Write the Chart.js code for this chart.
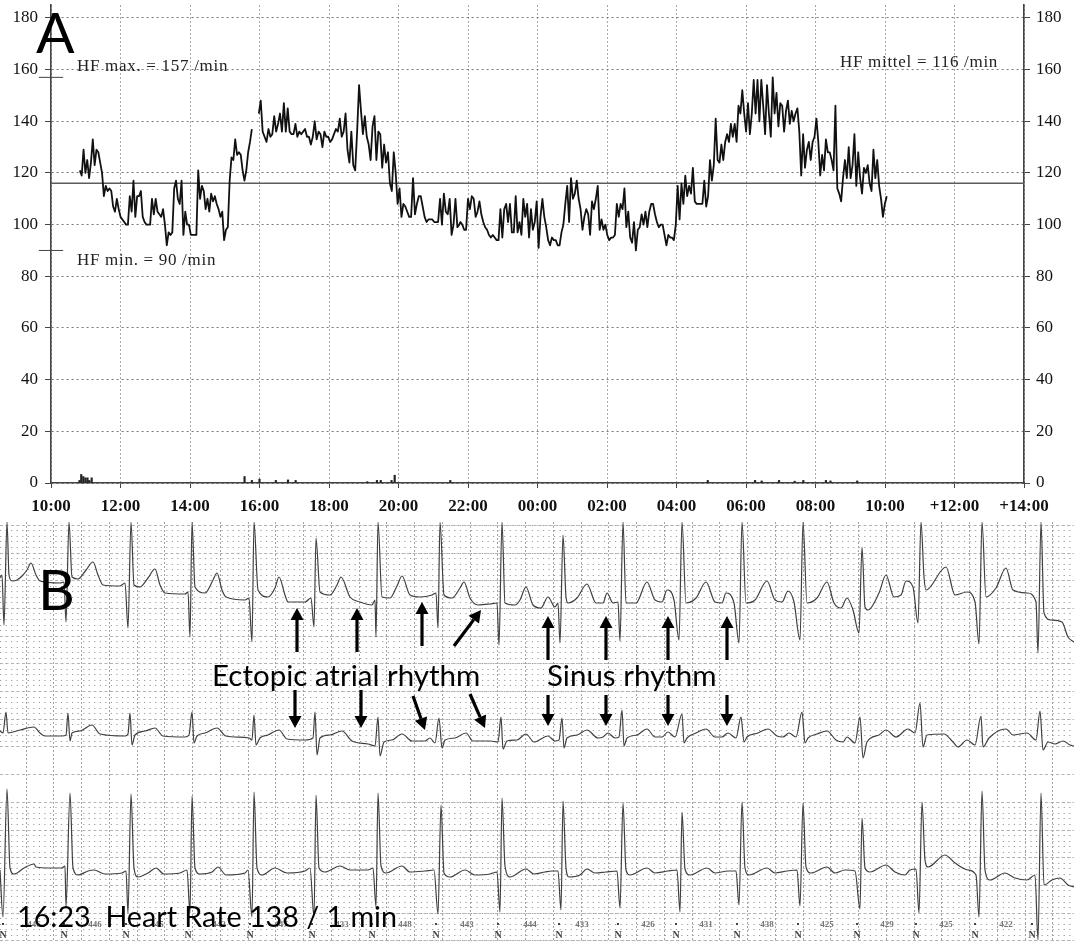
<!DOCTYPE html>
<html>
<head>
<meta charset="utf-8">
<title>Holter</title>
<script src="https://cdn.jsdelivr.net/npm/chart.js@4"></script>
<style>
html, body { margin: 0; padding: 0; background: #fff; }
#page { position: relative; width: 1074px; height: 942px; overflow: hidden; }
canvas { position: absolute; left: 0; filter: blur(0.45px); }
.hf { position: absolute; font: 17px "Liberation Serif", serif; letter-spacing: 0.7px; color: #222; white-space: nowrap; }
.note { position: absolute; font-family: Lato, sans-serif; color: #000; white-space: nowrap; line-height: 1; }
</style>
</head>
<body>
<div id="page">
  <canvas id="trend" width="1074" height="522" style="top:0"></canvas>
  <canvas id="ecg" width="1074" height="420" style="top:522px"></canvas>
  <div class="hf" style="left:77px;top:56px">HF max. = 157 /min</div>
  <div class="hf" style="left:77px;top:250px">HF min. = 90 /min</div>
  <div class="hf" style="left:840px;top:52px">HF mittel = 116 /min</div>
  <div class="note" style="left:36px;top:3px;font-size:57px">A</div>
  <div class="note" style="left:38px;top:560px;font-size:57px">B</div>
  <div class="note" style="left:212px;top:660px;font-size:29.5px">Ectopic atrial rhythm</div>
  <div class="note" style="left:547px;top:660px;font-size:29.5px">Sinus rhythm</div>
  <div class="note" style="left:17px;top:902px;font-size:28.7px">16:23&nbsp; Heart Rate 138 / 1 min</div>
</div>
<script>
const xTickLabels = ['10:00', '12:00', '14:00', '16:00', '18:00', '20:00', '22:00', '00:00',
    '02:00', '04:00', '06:00', '08:00', '10:00', '+12:00', '+14:00'];

const hfMean = 116;
const hfMax = 157;
const hfMin = 90;

// heart rate readings, one list per stretch of the recording (hours after 10:00)
const hrPartA = [121,119,129,120,125,118,124,133,123,129,128,124,120,111,115,113,114,113,107,105,110,106,103,102,101,100,100,111,105,117,103,111,111,113,103,101,100,100,100,110,104,110,105,104,103,106,100,92,97,96,97,114,117,110,108,117,96,105,100,100,96,96,96,96,121,110,115,113,106,110,105,112,109,111,108,106,103,105,94,98,99,117,126,125,133,127,128,127,121,117,121,128,132,137];
const hrPartB = [143,148,136,134,132,137,134,135,142,136,139,143,136,147,136,145,136,135,135,139,134,136,135,136,137,134,134,131,134,140,133,136,135,130,136,134,134,132,133,135,137,136,141,134,136,143,129,124,136,123,121,136,154,144,135,142,134,131,125,138,142,125,136,135,122,131,124,128,116,113,128,120,108,114,103,108,107,105,103,103,118,104,108,111,111,107,103,101,102,102,102,101,101,101,110,100,112,105,104,110,96,100,110,99,100];
const hrPartC = [101,100,98,98,110,106,111,110,103,105,109,104,101,99,98,96,95,96,95,94,94,106,95,106,108,101,108,97,97,111,97,101,96,110,103,108,95,106,98,101,109,91,103,110,103,99,94,92,95,94,94,92,92,97,100,108,115,101,118,110,112,117,110,106,98,103,106,104,96,109,106,110,115,98,102,98,100,96,94,95,95,96,108,103,108,106,114,99,105,95,93,101,90,98,99,104,100,105,99,105,108,108,104,101,99,100,100,96,92,96,95];
const hrPartD = [95,94,100,115,102,116,108,119,111,115,112,122,109,108,108,108,108,117,107,111,125,117,123,141,125,124,131,125,132,135,132,139,134,139,132,146,143,152,143,136,147,135,143,156,143,156,140,156,146,135,154,143,134,157,143,151,138,147,146,136,144,148,139,144,140,143,145,136,119,135,122,129,132,125,132,134,141,132,119,127,121,133,128,128,125,121,146,114,112,109,118,125,118,130,118,123,135,115,128,118,112,122,120,123,116,113,129,118,125,115,110,103,108,111];
const hrPartSpans = [[0.83, 5.78], [5.98, 11.75], [11.78, 17.82], [17.87, 24.05]];

// small artefact count along the zero line
const artefactHours = [0.82,0.87,0.93,0.99,1.05,1.1,1.17,5.57,5.78,6,6.47,6.82,7.04,9.1,9.38,9.49,9.8,9.89,11.49,18.9,20.26,20.45,20.95,21.4,21.65,22.3,22.43,23.2];
const artefactCounts = [1,3.3,2.5,2,2,1,2,2.5,1,1.5,1,1.2,1,0.5,1,1,1,3,1,1,1,0.8,1,0.7,1,1,0.8,0.8];

// ECG leads: [sample, amplitude]
const lead1 = [[0,22],[2,25],[4,-25],[7,78],[9,25],[12,19],[17,20],[22,24],[27,30],[31,37],[36,25],[40,19],[60,17],[64,18],[66,-22],[69,78],[72,23],[78,21],[86,30],[93,38],[98,25],[103,15],[120,14],[125,17],[128,-28],[131,78],[134,15],[140,13],[148,22],[155,31],[160,15],[165,7],[185,6],[188,8],[190,-37],[192,78],[195,13],[205,7],[213,20],[217,27],[222,10],[226,3],[245,0],[249,2],[252,-42],[254,78],[258,10],[268,3],[275,12],[279,23],[285,5],[288,-2],[305,-2],[311,2],[314,-27],[316,62],[320,8],[330,5],[337,15],[341,23],[350,3],[360,-2],[372,-5],[375,0],[376,-37],[378,78],[382,3],[390,2],[397,14],[402,24],[410,5],[420,3],[432,5],[436,7],[438,-28],[440,78],[444,5],[452,2],[460,12],[464,18],[470,2],[478,-5],[490,-4],[497,-3],[499,-45],[502,78],[505,-3],[515,-5],[520,0],[526,13],[533,-5],[541,-8],[548,3],[555,-7],[558,-3],[560,-43],[563,65],[566,3],[568,-3],[577,2],[587,16],[596,-3],[603,-3],[607,7],[613,-3],[618,-2],[620,-41],[623,78],[626,-3],[636,-3],[647,18],[655,0],[662,-2],[667,10],[674,0],[679,-40],[682,78],[686,-3],[696,2],[706,18],[715,-2],[722,-3],[726,7],[734,-3],[739,-43],[742,78],[746,-3],[755,0],[767,19],[775,0],[782,-2],[788,9],[794,-2],[800,-40],[803,78],[807,-3],[817,2],[827,18],[834,-3],[841,-8],[847,2],[853,-10],[859,-33],[862,53],[865,-7],[868,-10],[879,7],[886,25],[894,3],[901,5],[906,19],[913,13],[918,-23],[921,78],[924,23],[926,10],[946,33],[955,5],[967,8],[975,-2],[979,-44],[982,78],[986,3],[996,12],[1006,32],[1013,10],[1027,7],[1036,-2],[1038,-53],[1041,78],[1044,-13],[1051,-20],[1062,-22],[1068,-37],[1074,-42]];
const lead2 = [[0,9],[3,7],[6,28],[8,7],[20,10],[34,13],[40,7],[45,4],[62,4],[66,5],[68,27],[70,-1],[72,7],[80,9],[92,15],[100,6],[125,4],[128,6],[130,27],[132,-5],[135,5],[145,9],[155,12],[163,4],[185,3],[189,5],[192,28],[194,-3],[197,4],[205,7],[217,12],[226,4],[249,2],[252,0],[254,25],[256,-5],[260,2],[268,5],[279,10],[287,1],[305,0],[313,2],[315,28],[317,-15],[320,2],[330,5],[342,9],[352,-1],[368,-4],[375,-6],[378,23],[380,-16],[384,-2],[392,0],[402,6],[412,-1],[425,-1],[430,2],[435,-3],[439,22],[442,-8],[445,0],[455,2],[466,7],[473,-1],[490,-1],[498,-2],[501,23],[503,-9],[507,-1],[517,0],[526,6],[534,-2],[548,4],[555,-1],[559,0],[562,22],[564,-8],[567,2],[577,5],[587,10],[598,2],[603,3],[608,7],[615,2],[619,3],[622,30],[624,-6],[627,2],[637,5],[647,11],[655,3],[662,3],[668,8],[675,3],[682,26],[684,-3],[687,2],[696,7],[706,11],[715,3],[722,3],[728,7],[736,2],[741,23],[744,-2],[747,3],[758,7],[768,11],[777,4],[783,3],[789,7],[796,3],[802,28],[805,-3],[808,2],[817,6],[827,9],[836,0],[843,-2],[847,3],[855,-3],[860,23],[863,-18],[867,-2],[879,5],[886,10],[896,3],[908,11],[915,7],[920,37],[923,-7],[927,5],[944,6],[953,-2],[958,-7],[967,0],[975,-5],[981,24],[983,-7],[989,2],[1006,11],[1013,5],[1027,7],[1036,0],[1040,29],[1043,-10],[1048,-2],[1055,-4],[1063,-1],[1070,-5],[1074,-6]];
const lead3 = [[0,0],[3,-47],[7,81],[10,2],[14,-4],[24,2],[34,6],[36,3],[50,2],[62,2],[65,4],[66,-37],[70,77],[73,2],[78,-5],[88,-1],[94,0],[105,-4],[122,-3],[126,-1],[128,-43],[131,76],[134,2],[138,-7],[148,-3],[156,2],[164,-4],[180,-3],[187,0],[190,-43],[192,74],[195,2],[200,-4],[212,-2],[218,3],[226,-5],[245,-3],[248,0],[252,-47],[254,78],[257,2],[262,-5],[275,2],[287,-3],[305,-1],[310,2],[314,-47],[316,75],[319,2],[325,-2],[340,4],[350,0],[368,0],[373,2],[376,-37],[378,77],[381,4],[386,-3],[402,4],[410,-2],[425,-1],[434,0],[438,-44],[441,65],[444,-3],[450,-7],[465,0],[475,-5],[490,-4],[497,-2],[500,-42],[502,72],[505,4],[510,-7],[526,1],[534,-4],[545,-2],[552,-1],[558,-1],[561,-40],[563,69],[566,2],[569,-7],[580,-5],[587,1],[595,-3],[606,-2],[617,-1],[620,-38],[623,67],[626,0],[630,-5],[647,2],[655,-3],[668,-1],[677,0],[680,-42],[682,58],[685,1],[690,-5],[707,2],[715,-3],[728,-1],[736,-1],[739,-35],[742,68],[745,2],[749,-5],[767,2],[775,-3],[787,-1],[797,0],[800,-36],[803,67],[806,3],[811,-3],[827,3],[835,-3],[845,0],[855,-1],[860,-39],[862,52],[865,2],[870,-2],[886,5],[895,-2],[905,-5],[910,0],[916,1],[919,-43],[922,68],[925,10],[928,3],[945,15],[955,7],[968,0],[976,-5],[979,-47],[982,79],[985,0],[990,-10],[1005,-3],[1015,-8],[1027,-10],[1035,-5],[1038,-70],[1041,77],[1044,-15],[1052,-10],[1060,-8],[1068,-15],[1074,-17]];

// RR intervals printed under the strip, with the sample they sit at
const rrSamples = [34,95,157,219,281,342,405,467,530,582,648,706,767,827,887,946,1006];
const rrLabels = ['446','446','445','442','447','433','448','443','444','433','426','431','438','425','429','425','422'];
const beatSamples = [3,64,126,188,250,312,372,436,498,559,618,676,737,798,857,916,975,1032];

// arrows on the strip: tail sample, tail amp, tip sample, tip amp (lead 1 amplitude)
const arrows = [
    [297,-52,297,-8], [357,-52,357,-8], [422,-46,422,-2], [454,-46,481,-10],
    [548,-60,548,-16], [606,-60,606,-16], [668,-60,668,-16], [727,-60,727,-16],
    [295,-90,295,-128], [361,-90,361,-128], [413,-96,425,-130], [470,-94,485,-128],
    [548,-95,548,-126], [606,-95,606,-126], [668,-95,668,-126], [727,-95,727,-126]
];

function partPoints(values, span) {
    const step = (span[1] - span[0]) / (values.length - 1);
    return values.map((v, i) => ({ x: span[0] + i * step, y: v }));
}

const hrPoints = [
    ...partPoints(hrPartA, hrPartSpans[0]),
    { x: 5.88, y: null },
    ...partPoints(hrPartB, hrPartSpans[1]),
    ...partPoints(hrPartC, hrPartSpans[2]),
    ...partPoints(hrPartD, hrPartSpans[3])
];

const serifTicks = { family: '"Liberation Serif", serif', size: 17 };

// no room kept for half a tick label above or below the plot
function noAxisPadding(s) {
    s.paddingTop = 0;
    s.paddingBottom = 0;
}

new Chart(document.getElementById('trend'), {
    type: 'line',
    data: {
        datasets: [
            { data: hrPoints, borderColor: '#111', borderWidth: 1.8, pointRadius: 0, tension: 0, borderJoinStyle: 'round', spanGaps: false, yAxisID: 'y' },
            { data: [{ x: 0, y: hfMean }, { x: 28, y: hfMean }], borderColor: '#5c5c5c', borderWidth: 1.6, pointRadius: 0, yAxisID: 'y' },
            { data: [{ x: -0.35, y: hfMax }, { x: 0.35, y: hfMax }], borderColor: '#444', borderWidth: 1, pointRadius: 0, clip: false, yAxisID: 'y' },
            { data: [{ x: -0.35, y: hfMin }, { x: 0.35, y: hfMin }], borderColor: '#444', borderWidth: 1, pointRadius: 0, clip: false, yAxisID: 'y' },
            { type: 'bar', data: artefactHours.map((h, i) => ({ x: h, y: artefactCounts[i] })), backgroundColor: '#222', barThickness: 1.5, yAxisID: 'y' }
        ]
    },
    options: {
        responsive: false,
        animation: false,
        layout: { padding: { top: 5, left: 0, right: 0, bottom: 0 } },
        plugins: { legend: { display: false }, tooltip: { enabled: false } },
        scales: {
            x: {
                type: 'linear', min: 0, max: 28, offset: false,
                afterFit(s) { s.height = 39; },
                border: { color: '#444', width: 1.4, dash: [2, 2] },
                grid: { offset: false, color: '#a8a8a8', tickLength: 5, tickColor: '#444', tickBorderDash: [] },
                ticks: {
                    stepSize: 2, autoSkip: false, maxRotation: 0, padding: 8, color: '#111',
                    font: { family: '"Liberation Serif", serif', size: 17, weight: 'bold' },
                    callback: (v) => xTickLabels[v / 2]
                }
            },
            y: {
                position: 'left', min: 0, max: 185,
                afterFit(s) { s.width = 51; noAxisPadding(s); },
                border: { color: '#444', width: 1.6, dash: [2, 3] },
                grid: { color: '#777', tickLength: 6, tickColor: '#444', tickBorderDash: [] },
                ticks: { stepSize: 20, includeBounds: false, padding: 7, color: '#111', font: serifTicks }
            },
            yRight: {
                position: 'right', min: 0, max: 185,
                afterFit(s) { s.width = 50; noAxisPadding(s); },
                border: { color: '#444', width: 1.6 },
                grid: { drawOnChartArea: false, tickLength: 6, tickColor: '#444' },
                ticks: { stepSize: 20, includeBounds: false, padding: 6, color: '#111', font: serifTicks }
            }
        }
    }
});

// arrows and the printed RR row go on top of the ECG traces
const stripMarks = {
    id: 'stripMarks',
    afterDatasetsDraw(chart) {
        const { ctx, scales } = chart;
        ctx.save();
        ctx.strokeStyle = '#000';
        ctx.fillStyle = '#000';
        arrows.forEach((a) => {
            const x0 = scales.x.getPixelForValue(a[0]);
            const y0 = scales.y1.getPixelForValue(a[1]);
            const x1 = scales.x.getPixelForValue(a[2]);
            const y1 = scales.y1.getPixelForValue(a[3]);
            const ang = Math.atan2(y1 - y0, x1 - x0);
            const backX = x1 - Math.cos(ang) * 12;
            const backY = y1 - Math.sin(ang) * 12;
            ctx.lineWidth = 3.2;
            ctx.beginPath();
            ctx.moveTo(x0, y0);
            ctx.lineTo(backX, backY);
            ctx.stroke();
            ctx.beginPath();
            ctx.moveTo(x1, y1);
            ctx.lineTo(backX - Math.sin(ang) * 6.5, backY + Math.cos(ang) * 6.5);
            ctx.lineTo(backX + Math.sin(ang) * 6.5, backY - Math.cos(ang) * 6.5);
            ctx.closePath();
            ctx.fill();
        });
        ctx.textAlign = 'center';
        ctx.textBaseline = 'middle';
        ctx.font = 'bold 9px "Liberation Serif", serif';
        ctx.fillStyle = '#777';
        rrSamples.forEach((s, i) => {
            ctx.fillText(rrLabels[i], scales.x.getPixelForValue(s), scales.y3.getPixelForValue(-55));
        });
        ctx.font = 'bold 10px "Liberation Serif", serif';
        ctx.fillStyle = '#444';
        beatSamples.forEach((s) => {
            ctx.fillText('N', scales.x.getPixelForValue(s), scales.y3.getPixelForValue(-65));
            ctx.fillRect(scales.x.getPixelForValue(s) - 1, scales.y3.getPixelForValue(-54) - 1, 2, 2);
        });
        ctx.restore();
    }
};

const paperAxis = {
    display: true,
    afterFit(s) { if (s.isHorizontal()) { s.height = 0; } else { s.width = 0; } },
    border: { display: false },
    ticks: { display: false, autoSkip: false, includeBounds: false }
};

function leadDataset(lead, axis) {
    return {
        data: lead.map((p) => ({ x: p[0], y: p[1] })),
        borderColor: '#404040', borderWidth: 1.2, pointRadius: 0, cubicInterpolationMode: 'monotone',
        xAxisID: 'x', yAxisID: axis
    };
}

new Chart(document.getElementById('ecg'), {
    type: 'line',
    data: { datasets: [leadDataset(lead1, 'y1'), leadDataset(lead2, 'y2'), leadDataset(lead3, 'y3')] },
    options: {
        responsive: false,
        animation: false,
        layout: { padding: 0 },
        plugins: { legend: { display: false }, tooltip: { enabled: false } },
        scales: {
            x: { type: 'linear', min: 0, max: 1074, display: false },
            y1: { min: -342, max: 78, display: false },
            y2: { min: -202, max: 218, display: false },
            y3: { min: -72, max: 348, display: false },
            // paper: dots come from dashed rows, every fifth line is stronger
            rowDots: {
                ...paperAxis, position: 'left', reverse: true, min: -31, max: 389,
                border: { display: false, dash: [1.2, 4.34] },
                grid: {
                    drawTicks: false,
                    color: (c) => (c.tick && c.tick.value > 195 && c.tick.value < 245 ? 'rgba(0,0,0,0)' : '#9c9c9c')
                },
                ticks: { ...paperAxis.ticks, stepSize: 5.54 }
            },
            rowLines: {
                ...paperAxis, position: 'left', reverse: true, min: -31, max: 389,
                border: { display: false, dash: [3, 2.5] },
                grid: { drawTicks: false, color: '#b4b4b4' },
                ticks: { ...paperAxis.ticks, stepSize: 27.7 }
            },
            colLines: {
                ...paperAxis, type: 'linear', position: 'bottom', min: -26, max: 1048,
                border: { display: false, dash: [2, 2] },
                grid: { drawTicks: false, color: '#a4a4a4' },
                ticks: { ...paperAxis.ticks, stepSize: 27.75 }
            }
        }
    },
    plugins: [stripMarks]
});
</script>
</body>
</html>
